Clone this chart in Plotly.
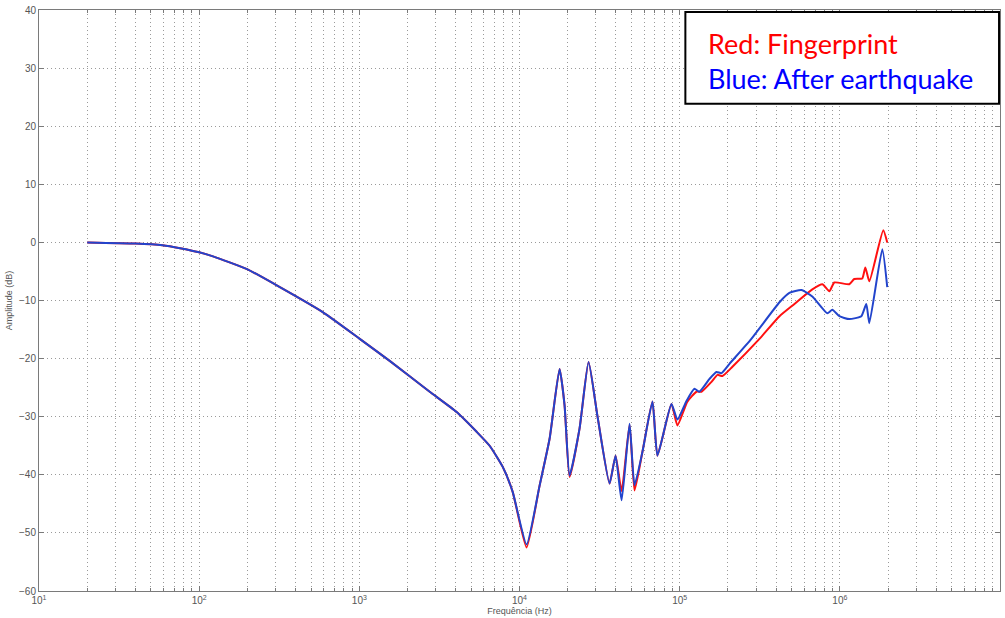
import plotly.graph_objects as go

# Shared low-frequency response (Hz, dB)
freq_low = [20, 40, 59, 76, 100, 122, 199, 319, 591, 1006, 1547, 2750, 4052, 5402,
            6509, 7845, 9057]
db_low = [0.0, -0.2, -0.5, -1.0, -1.7, -2.4, -4.6, -7.7, -12.0, -16.6, -20.4, -25.7,
          -29.2, -32.6, -35.0, -38.6, -42.9]

# Resonance region
freq_mid = [11070, 13340, 15410, 17790, 19110, 20540, 23720, 26990, 30710,
            36480, 39800, 43390, 48670, 52250, 58610, 67640, 72640, 88850, 96830]
db_mid_red = [-52.5, -41.9, -33.8, -21.8, -28.0, -40.4, -32.0, -20.6, -30.0,
              -41.5, -36.7, -42.8, -31.4, -42.7, -36.0, -27.4, -36.7, -27.8, -31.5]
db_mid_blue = [-52.0, -41.9, -33.8, -21.8, -28.0, -40.1, -32.0, -20.6, -30.0,
               -41.5, -36.7, -44.4, -31.2, -41.8, -36.0, -27.4, -36.7, -27.8, -30.5]

# High-frequency part
freq_high_red = [111700, 127300, 136800, 158000, 172200, 185000, 213500, 314800,
                 420000, 520500, 673300, 777700, 859900, 924000, 1146000, 1231000,
                 1381000, 1443000, 1528000, 1867000, 1977000]
db_high_red = [-27.4, -25.7, -25.7, -24.0, -22.8, -23.0, -21.4, -16.6,
               -12.7, -10.6, -8.1, -7.2, -8.4, -6.9, -7.2, -6.3,
               -6.2, -4.3, -6.7, 2.1, 0.0]

freq_high_blue = [110300, 123600, 132800, 153500, 169700, 182400, 204600, 280300,
                  420000, 484000, 575800, 673300, 835200, 897600, 993700, 1146000,
                  1362000, 1463000, 1528000, 1841000, 1977000]
db_high_blue = [-27.3, -25.2, -25.7, -23.5, -22.3, -22.5, -20.9, -16.6,
                -10.3, -8.7, -8.2, -9.3, -12.2, -11.6, -12.7, -13.2,
                -12.7, -10.6, -13.9, -1.2, -7.7]

x_tickvals = [1e1, 1e2, 1e3, 1e4, 1e5, 1e6, 1e7]
x_ticktext = ["10<sup>1</sup>", "10<sup>2</sup>", "10<sup>3</sup>", "10<sup>4</sup>",
              "10<sup>5</sup>", "10<sup>6</sup>", "10<sup>7</sup>"]
y_tickvals = [-60, -50, -40, -30, -20, -10, 0, 10, 20, 30, 40]

red_x = freq_low + freq_mid + freq_high_red
red_y = db_low + db_mid_red + db_high_red
blue_x = freq_low + freq_mid + freq_high_blue
blue_y = db_low + db_mid_blue + db_high_blue

fig = go.Figure()
fig.add_trace(go.Scatter(x=red_x, y=red_y, mode="lines",
                         line=dict(color="#ff1010", width=2, shape="spline", smoothing=0.5),
                         name="Fingerprint", showlegend=False))
fig.add_trace(go.Scatter(x=blue_x, y=blue_y, mode="lines",
                         line=dict(color="#2244cc", width=2, shape="spline", smoothing=0.5),
                         name="After earthquake", showlegend=False))

grid_col = "#9a9a9a"
axis_col = "#7a7a7a"
dotdash = "1px,3px"
tick_font = dict(family="Liberation Sans, Arial, sans-serif", size=10, color="#555555")

fig.update_xaxes(type="log", range=[1, 7], tickvals=x_tickvals, ticktext=x_ticktext,
                 showline=True, linecolor=axis_col, linewidth=1, mirror="ticks",
                 ticks="inside", ticklen=5, tickcolor=axis_col,
                 showgrid=True, gridcolor=grid_col, griddash=dotdash, gridwidth=1,
                 minor=dict(ticks="inside", ticklen=3, tickcolor=axis_col,
                            showgrid=True, gridcolor=grid_col, griddash=dotdash,
                            dtick="D1"),
                 zeroline=False, tickfont=tick_font,
                 title=dict(text="Frequência (Hz)",
                            font=dict(family="Liberation Sans, Arial", size=9, color="#555555"),
                            standoff=2))
fig.update_yaxes(range=[-60, 40], tickvals=y_tickvals,
                 showline=True, linecolor=axis_col, linewidth=1, mirror="ticks",
                 ticks="inside", ticklen=5, tickcolor=axis_col,
                 showgrid=True, gridcolor=grid_col, griddash=dotdash, gridwidth=1,
                 zeroline=False, tickfont=tick_font,
                 title=dict(text="Amplitude (dB)",
                            font=dict(family="Liberation Sans, Arial", size=9, color="#555555"),
                            standoff=4))

fig.add_shape(type="rect", xref="paper", yref="paper",
              x0=0.6726, x1=0.999, y0=0.8388, y1=0.9966,
              line=dict(color="black", width=2), fillcolor="white", layer="above")
fig.add_annotation(xref="paper", yref="paper", x=0.6944, y=0.9417, xanchor="left",
                   yanchor="middle", showarrow=False, text="Red: Fingerprint",
                   font=dict(family="Lato, Open Sans, sans-serif", size=27, color="#ff0000"))
fig.add_annotation(xref="paper", yref="paper", x=0.6944, y=0.8816, xanchor="left",
                   yanchor="middle", showarrow=False, text="Blue: After earthquake",
                   font=dict(family="Lato, Open Sans, sans-serif", size=27, color="#0000ff"))

fig.update_layout(width=1005, height=618, margin=dict(l=39, r=4, t=10, b=25),
                  plot_bgcolor="white", paper_bgcolor="white")

fig.write_html("out.html", config={"displayModeBar": False},
               post_script="document.body.style.margin='0';document.body.style.overflow='hidden';")
